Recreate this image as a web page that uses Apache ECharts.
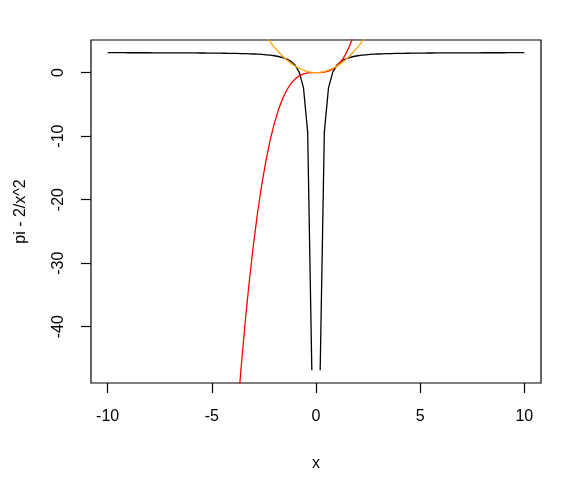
<!DOCTYPE html>
<html>
<head>
<meta charset="utf-8">
<script src="https://cdn.jsdelivr.net/npm/echarts@6/dist/echarts.min.js"></script>
<style>html,body{margin:0;padding:0;background:#fff}#c{width:571px;height:482px}</style>
</head>
<body>
<div id="c"></div>
<script>
// black curve: pi - 2/x^2 (gap at x = 0)
var blackX = [-10,-9.8,-9.6,-9.4,-9.2,-9,-8.8,-8.6,-8.4,-8.2,-8,-7.8,-7.6,-7.4,-7.2,-7,-6.8,-6.6,-6.4,-6.2,-6,-5.8,-5.6,-5.4,-5.2,-5,-4.8,-4.6,-4.4,-4.2,-4,-3.8,-3.6,-3.4,-3.2,-3,-2.8,-2.6,-2.4,-2.2,-2,-1.8,-1.6,-1.4,-1.2,-1,-0.8,-0.6,-0.4,-0.2,0,0.2,0.4,0.6,0.8,1,1.2,1.4,1.6,1.8,2,2.2,2.4,2.6,2.8,3,3.2,3.4,3.6,3.8,4,4.2,4.4,4.6,4.8,5,5.2,5.4,5.6,5.8,6,6.2,6.4,6.6,6.8,7,7.2,7.4,7.6,7.8,8,8.2,8.4,8.6,8.8,9,9.2,9.4,9.6,9.8,10];
var blackY = [3.122,3.121,3.120,3.119,3.118,3.117,3.116,3.115,3.113,3.112,3.110,3.109,3.107,3.105,3.103,3.101,3.098,3.096,3.093,3.090,3.086,3.082,3.078,3.073,3.068,3.062,3.055,3.047,3.038,3.028,3.017,3.003,2.987,2.969,2.946,2.919,2.887,2.846,2.794,2.728,2.642,2.524,2.360,2.121,1.753,1.142,0.017,-2.414,-9.358,-46.858,'-',-46.858,-9.358,-2.414,0.017,1.142,1.753,2.121,2.360,2.524,2.642,2.728,2.794,2.846,2.887,2.919,2.946,2.969,2.987,3.003,3.017,3.028,3.038,3.047,3.055,3.062,3.068,3.073,3.078,3.082,3.086,3.090,3.093,3.096,3.098,3.101,3.103,3.105,3.107,3.109,3.110,3.112,3.113,3.115,3.116,3.117,3.118,3.119,3.120,3.121,3.122];
// red curve: x^3 (visible part)
var redX = [-3.8,-3.6,-3.4,-3.2,-3,-2.8,-2.6,-2.4,-2.2,-2,-1.8,-1.6,-1.4,-1.2,-1,-0.8,-0.6,-0.4,-0.2,0,0.2,0.4,0.6,0.8,1,1.2,1.4,1.6,1.8];
var redY = [-54.872,-46.656,-39.304,-32.768,-27,-21.952,-17.576,-13.824,-10.648,-8,-5.832,-4.096,-2.744,-1.728,-1,-0.512,-0.216,-0.064,-0.008,0,0.008,0.064,0.216,0.512,1,1.728,2.744,4.096,5.832];
// orange curve: x^2 (visible part)
var orangeX = [-2.4,-2.2,-2,-1.8,-1.6,-1.4,-1.2,-1,-0.8,-0.6,-0.4,-0.2,0,0.2,0.4,0.6,0.8,1,1.2,1.4,1.6,1.8,2,2.2,2.4];
var orangeY = [5.76,4.84,4,3.24,2.56,1.96,1.44,1,0.64,0.36,0.16,0.04,0,0.04,0.16,0.36,0.64,1,1.44,1.96,2.56,3.24,4,4.84,5.76];
// axis ticks
var xTicks = [-10,-5,0,5,10];
var yTicks = [-40,-30,-20,-10,0];
var xRange = [-10.8, 10.8];
var yRange = [-48.86, 5.12];

function pairs(xs, ys){ return xs.map(function(x,i){ return [x, ys[i]]; }); }

var FONT = 'Liberation Sans, Arial, Helvetica, sans-serif';
var chart = echarts.init(document.getElementById('c'), null, {renderer:'canvas'});
chart.setOption({
  animation: false,
  backgroundColor: '#fff',
  grid: {left: 91, right: 30, top: 40, bottom: 99, show: true, borderColor: '#000', borderWidth: 1.2, backgroundColor: 'transparent'},
  xAxis: {
    type: 'value', min: xRange[0], max: xRange[1],
    name: 'x', nameLocation: 'middle', nameGap: 73,
    nameTextStyle: {fontFamily: FONT, fontSize: 16, color: '#000'},
    axisLine: {show: false, onZero: false},
    axisTick: {show: true, customValues: xTicks, length: 10, lineStyle: {color: '#000', width: 1.2}},
    axisLabel: {customValues: xTicks, fontFamily: FONT, fontSize: 16, color: '#000', margin: 26},
    splitLine: {show: false}
  },
  yAxis: {
    type: 'value', min: yRange[0], max: yRange[1],
    name: 'pi - 2/x^2', nameLocation: 'middle', nameGap: 62,
    nameTextStyle: {fontFamily: FONT, fontSize: 16, color: '#000'},
    axisLine: {show: false, onZero: false},
    axisTick: {show: true, customValues: yTicks, length: 10, lineStyle: {color: '#000', width: 1.2}},
    axisLabel: {customValues: yTicks, rotate: 90, fontFamily: FONT, fontSize: 16, color: '#000', margin: 24},
    splitLine: {show: false}
  },
  series: [
    {type: 'line', data: pairs(blackX, blackY), showSymbol: false, symbol: 'none', connectNulls: false, clip: true,
     lineStyle: {color: '#000', width: 1.3}, z: 2},
    {type: 'line', data: pairs(redX, redY), showSymbol: false, symbol: 'none', clip: true,
     lineStyle: {color: '#ff0000', width: 1.3}, z: 3},
    {type: 'line', data: pairs(orangeX, orangeY), showSymbol: false, symbol: 'none', clip: true,
     lineStyle: {color: '#ffa500', width: 1.3}, z: 4}
  ]
});
</script>
</body>
</html>
